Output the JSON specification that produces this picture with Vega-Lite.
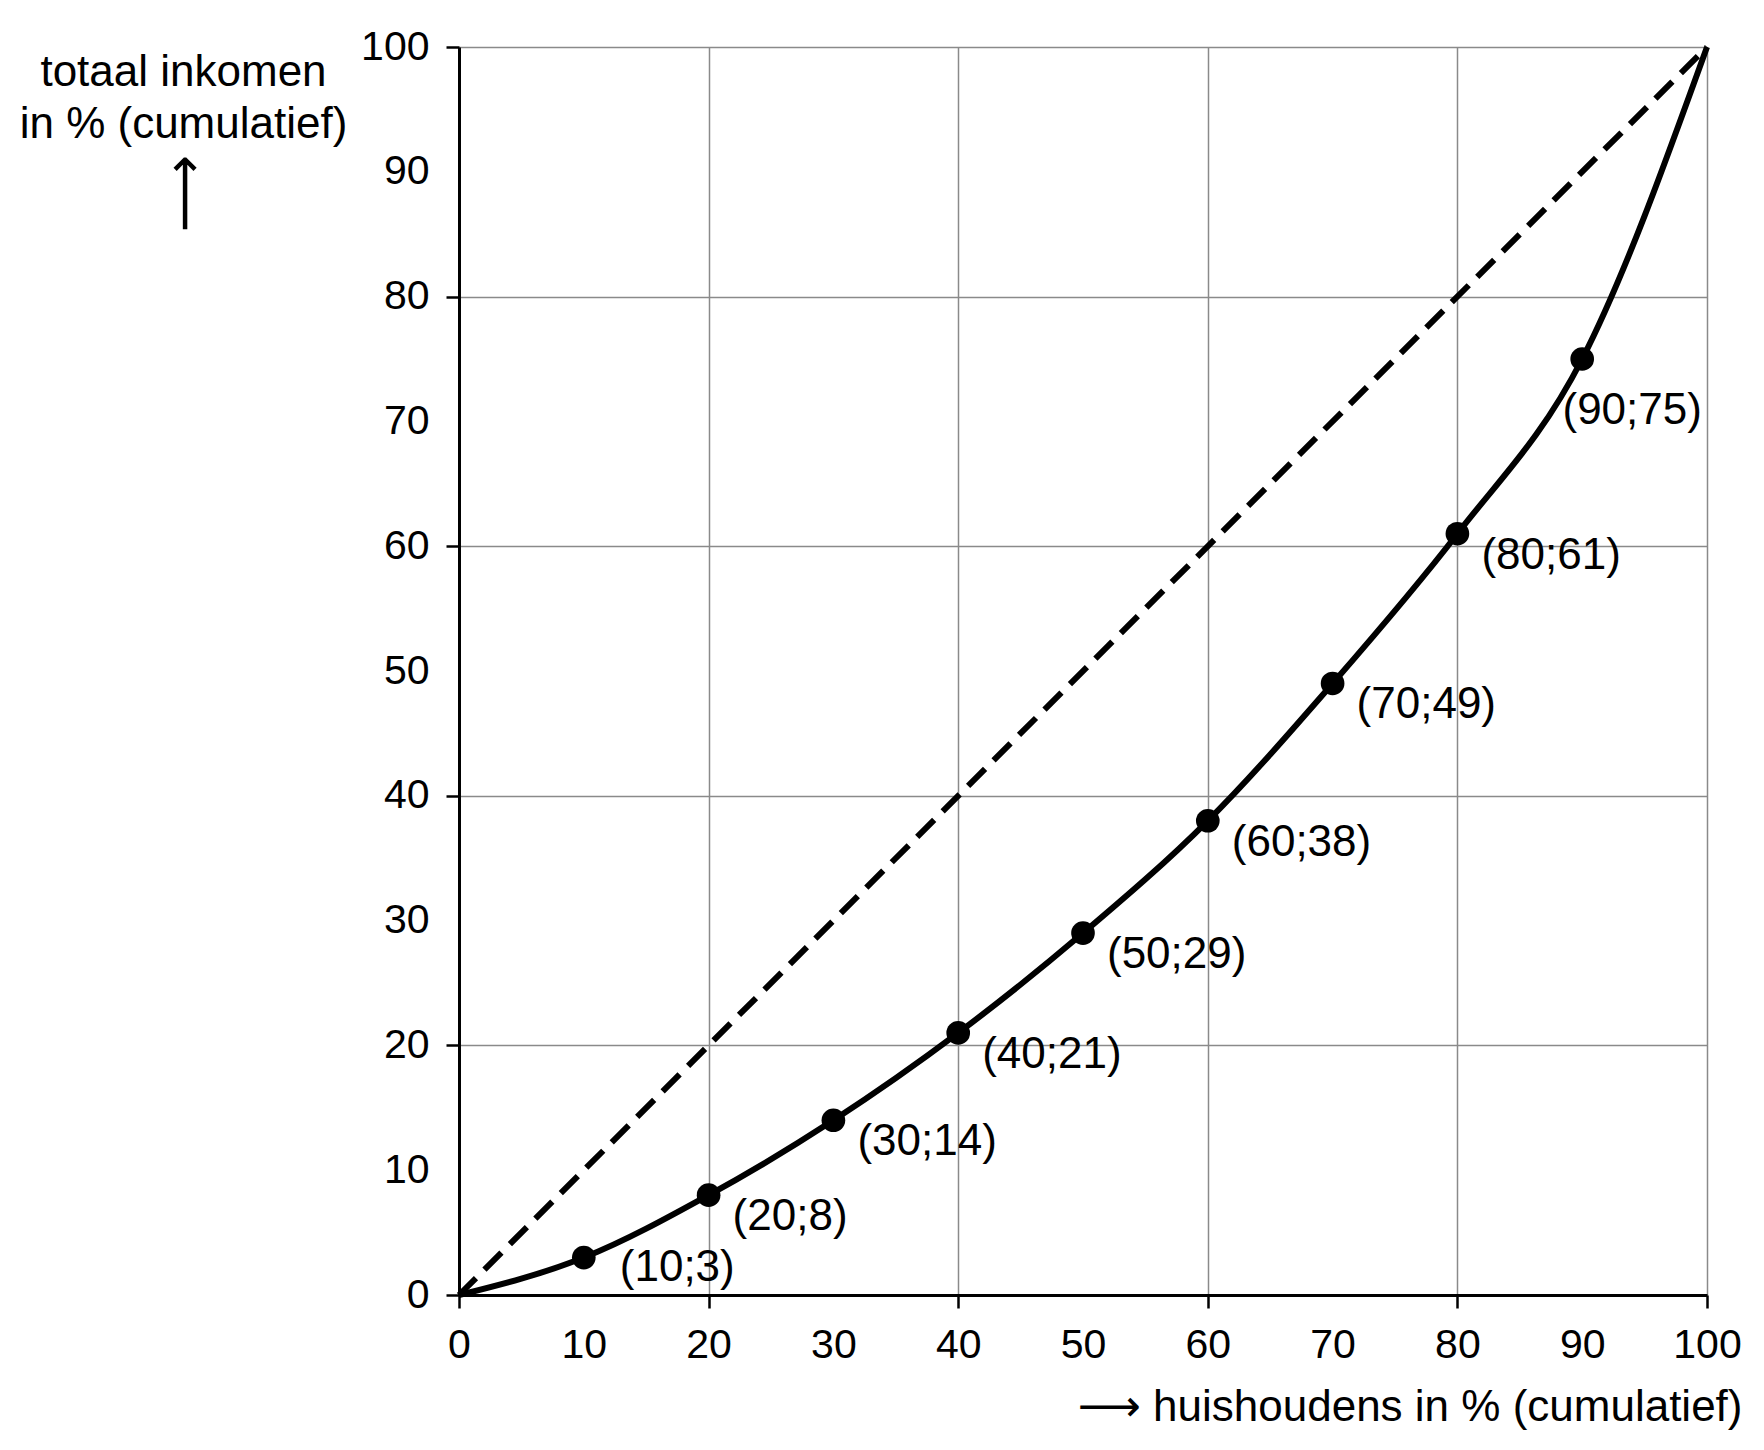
{
  "$schema": "https://vega.github.io/schema/vega-lite/v6.json",
  "width": 1248,
  "height": 1248,
  "autosize": {"type": "none"},
  "padding": {"left": 459, "top": 47, "right": 57, "bottom": 155},
  "background": "white",
  "config": {"view": {"stroke": null}, "font": "Liberation Sans"},
  "datasets": {
    "lorenz": [
      {"x": 0, "y": 0, "label": ""},
      {"x": 10, "y": 3, "label": "(10;3)"},
      {"x": 20, "y": 8, "label": "(20;8)"},
      {"x": 30, "y": 14, "label": "(30;14)"},
      {"x": 40, "y": 21, "label": "(40;21)"},
      {"x": 50, "y": 29, "label": "(50;29)"},
      {"x": 60, "y": 38, "label": "(60;38)"},
      {"x": 70, "y": 49, "label": "(70;49)"},
      {"x": 80, "y": 61, "label": "(80;61)"},
      {"x": 90, "y": 75, "label": "(90;75)"},
      {"x": 100, "y": 100, "label": ""}
    ],
    "diag": [{"x": 0, "y": 0}, {"x": 100, "y": 100}]
  },
  "resolve": {"axis": {"x": "independent", "y": "independent"}},
  "layer": [
    {
      "data": {"name": "diag"},
      "mark": {"type": "line", "stroke": "black", "strokeWidth": 6, "strokeDash": [24, 12], "strokeCap": "butt"},
      "encoding": {
        "x": {
          "field": "x", "type": "quantitative",
          "scale": {"domain": [0, 100], "nice": false},
          "axis": {
            "orient": "bottom", "values": [0, 20, 40, 60, 80, 100],
            "grid": true, "gridColor": "#8a8a8a", "gridWidth": 1.5,
            "ticks": true, "tickSize": 13, "tickWidth": 2.5, "tickColor": "black",
            "domain": true, "domainColor": "black", "domainWidth": 3,
            "labels": false, "title": null
          }
        },
        "y": {
          "field": "y", "type": "quantitative",
          "scale": {"domain": [0, 100], "nice": false},
          "axis": {
            "orient": "left", "values": [0, 20, 40, 60, 80, 100],
            "grid": true, "gridColor": "#8a8a8a", "gridWidth": 1.5,
            "ticks": true, "tickSize": 13, "tickWidth": 2.5, "tickColor": "black",
            "domain": true, "domainColor": "black", "domainWidth": 3,
            "labels": false,
            "title": "⟶", "titleFont": "DejaVu Sans", "titleFontSize": 54, "titleFontWeight": "normal",
            "titleAngle": -90, "titleX": -274, "titleY": 146, "titleAlign": "center", "titleBaseline": "middle",
            "titleColor": "black"
          }
        }
      }
    },
    {
      "data": {"name": "lorenz"},
      "mark": {"type": "line", "stroke": "black", "strokeWidth": 6, "interpolate": "monotone"},
      "encoding": {
        "x": {
          "field": "x", "type": "quantitative",
          "axis": {
            "orient": "bottom", "values": [0, 10, 20, 30, 40, 50, 60, 70, 80, 90, 100],
            "grid": false, "ticks": false, "domain": false,
            "labelFontSize": 41, "labelColor": "black", "labelPadding": 30,
            "labelFlush": false, "labelOverlap": false, "labelBound": false,
            "title": "⟶ huishoudens in % (cumulatief)",
            "titleFont": "Liberation Sans, DejaVu Sans", "titleFontSize": 44, "titleFontWeight": "normal", "titleColor": "black",
            "titleX": 1283, "titleY": 125, "titleAlign": "right", "titleBaseline": "alphabetic", "titleAnchor": "end"
          }
        },
        "y": {
          "field": "y", "type": "quantitative",
          "axis": {
            "orient": "left", "values": [0, 10, 20, 30, 40, 50, 60, 70, 80, 90, 100],
            "grid": false, "ticks": false, "domain": false,
            "labelFontSize": 41, "labelColor": "black", "labelPadding": 30,
            "labelFlush": false, "labelOverlap": false, "labelBound": false,
            "title": ["totaal inkomen", "in % (cumulatief)"],
            "titleFontSize": 44, "titleFontWeight": "normal", "titleColor": "black",
            "titleAngle": 0, "titleX": -276, "titleY": 38, "titleAlign": "center", "titleBaseline": "alphabetic",
            "titleLineHeight": 52
          }
        }
      }
    },
    {
      "data": {"name": "lorenz"},
      "transform": [{"filter": "datum.x > 0 && datum.x < 100"}],
      "mark": {"type": "circle", "size": 560, "color": "black", "opacity": 1},
      "encoding": {
        "x": {"field": "x", "type": "quantitative", "axis": null},
        "y": {"field": "y", "type": "quantitative", "axis": null}
      }
    },
    {
      "data": {"name": "lorenz"},
      "transform": [{"filter": "datum.x >= 20 && datum.x <= 80"}],
      "mark": {"type": "text", "align": "left", "baseline": "middle", "dx": 24, "dy": 22, "fontSize": 44, "color": "black"},
      "encoding": {
        "x": {"field": "x", "type": "quantitative", "axis": null},
        "y": {"field": "y", "type": "quantitative", "axis": null},
        "text": {"field": "label"}
      }
    },
    {
      "data": {"name": "lorenz"},
      "transform": [{"filter": "datum.x == 10"}],
      "mark": {"type": "text", "align": "left", "baseline": "middle", "dx": 36, "dy": 10, "fontSize": 44, "color": "black"},
      "encoding": {
        "x": {"field": "x", "type": "quantitative", "axis": null},
        "y": {"field": "y", "type": "quantitative", "axis": null},
        "text": {"field": "label"}
      }
    },
    {
      "data": {"name": "lorenz"},
      "transform": [{"filter": "datum.x == 90"}],
      "mark": {"type": "text", "align": "center", "baseline": "middle", "dx": 50, "dy": 52, "fontSize": 44, "color": "black"},
      "encoding": {
        "x": {"field": "x", "type": "quantitative", "axis": null},
        "y": {"field": "y", "type": "quantitative", "axis": null},
        "text": {"field": "label"}
      }
    }
  ]
}
